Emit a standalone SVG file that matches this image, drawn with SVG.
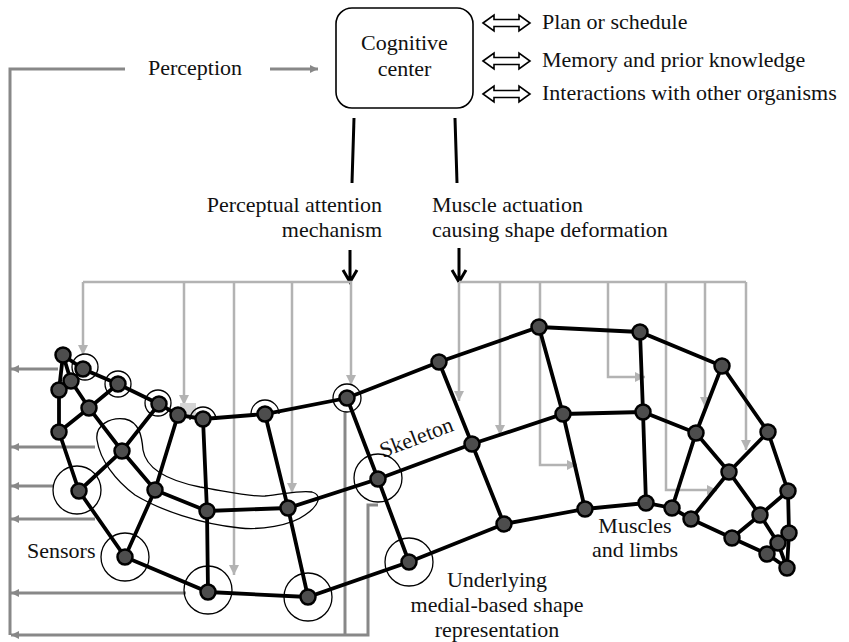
<svg xmlns="http://www.w3.org/2000/svg" width="849" height="642" viewBox="0 0 849 642">
<style>
text{font-family:"Liberation Serif","Times New Roman",serif;font-size:22px;fill:#111}
.att{stroke:#b3b3b3;stroke-width:2.5;fill:none}
.fb{stroke:#888;stroke-width:3;fill:none}
.blk{stroke:#000;stroke-width:3;fill:none}
.edge{stroke:#000;stroke-width:3.8;stroke-linecap:round}
.nd{fill:#4d4d4d;stroke:#000;stroke-width:2.5}
.sc{fill:none;stroke:#000;stroke-width:1.3}
.dbl{fill:#fff;stroke:#000;stroke-width:1.6;stroke-linejoin:miter}
</style>
<defs>
<marker id="ga" markerUnits="userSpaceOnUse" viewBox="0 0 10 10" refX="10" refY="5" markerWidth="11" markerHeight="10" orient="auto"><path d="M0,0 L10,5 L0,10 z" fill="#b3b3b3"/></marker>
<marker id="fa" markerUnits="userSpaceOnUse" viewBox="0 0 10 10" refX="10" refY="5" markerWidth="9" markerHeight="8" orient="auto"><path d="M0,0 L10,5 L0,10 z" fill="#888"/></marker>
<path id="dblarrow" d="M0,0 L11,-8 L11,-3.5 L36,-3.5 L36,-8 L47,0 L36,8 L36,3.5 L11,3.5 L11,8 Z"/>
</defs>

<g id="cognitive-center">
<rect x="336" y="8" width="137" height="100" rx="16" ry="16" fill="#fff" stroke="#000" stroke-width="1.6"/>
<text x="404.5" y="50" text-anchor="middle">Cognitive</text>
<text x="404.5" y="76" text-anchor="middle">center</text>
</g>

<g id="side-items">
<use href="#dblarrow" class="dbl" x="483" y="23"/>
<use href="#dblarrow" class="dbl" x="483" y="61"/>
<use href="#dblarrow" class="dbl" x="483" y="94"/>
<text x="542" y="29">Plan or schedule</text>
<text x="542" y="67">Memory and prior knowledge</text>
<text x="542" y="100">Interactions with other organisms</text>
</g>

<g id="labels">
<text x="148" y="75">Perception</text>
<text x="382" y="212" text-anchor="end">Perceptual attention</text>
<text x="382" y="237" text-anchor="end">mechanism</text>
<text x="432" y="212">Muscle actuation</text>
<text x="432" y="237">causing shape deformation</text>
<text x="27" y="558">Sensors</text>
<text x="383" y="458" transform="rotate(-21 383 458)">Skeleton</text>
<text x="635" y="533" text-anchor="middle">Muscles</text>
<text x="635" y="557" text-anchor="middle">and limbs</text>
<text x="497" y="587" text-anchor="middle">Underlying</text>
<text x="497" y="612" text-anchor="middle">medial-based shape</text>
<text x="497" y="637" text-anchor="middle">representation</text>
</g>

<g id="connectors">
<path class="fb" d="M125,69 H10 V635"/>
<path class="fb" d="M270,69 H318" marker-end="url(#fa)"/>
<path class="fb" d="M58,369 H11" marker-end="url(#fa)"/>
<path class="fb" d="M95,447 H11" marker-end="url(#fa)"/>
<path class="fb" d="M53,486 H11" marker-end="url(#fa)"/>
<path class="fb" d="M95,519 H11" marker-end="url(#fa)"/>
<path class="fb" d="M186,593 H11" marker-end="url(#fa)"/>
<path class="fb" d="M345,411 V635"/>
<path class="fb" d="M378,505 H368 V635 H11" marker-end="url(#fa)"/>
<path class="blk" d="M354,118 L352,183"/>
<path class="blk" d="M455,118 L457,183"/>
<path class="blk" d="M350,250 V281 M343,270 L350,282 L357,270"/>
<path class="blk" d="M459,248 V281 M452,270 L459,282 L466,270"/>
<path class="att" d="M352,282 H83"/>
<path class="att" d="M83,282 V355" marker-end="url(#ga)"/>
<path class="att" d="M184,282 V405" marker-end="url(#ga)"/>
<path class="att" d="M234,282 V575" marker-end="url(#ga)"/>
<path class="att" d="M292,282 V493" marker-end="url(#ga)"/>
<path class="att" d="M351,282 V385" marker-end="url(#ga)"/>
<rect x="180" y="403" width="16" height="15" fill="#d4d4d4"/>
<path class="att" d="M459,282 H746"/>
<path class="att" d="M459,282 V401" marker-end="url(#ga)"/>
<path class="att" d="M500,282 V435" marker-end="url(#ga)"/>
<path class="att" d="M540,282 V465 H577" marker-end="url(#ga)"/>
<path class="att" d="M608,282 V377 H645" marker-end="url(#ga)"/>
<path class="att" d="M666,282 V490 H717" marker-end="url(#ga)"/>
<path class="att" d="M705,282 V407" marker-end="url(#ga)"/>
<path class="att" d="M746,282 V450" marker-end="url(#ga)"/>
</g>

<g id="sensors">
<path class="sc" d="M97,440 C95,425 110,417 125,419 C140,422 142,438 143,450 C146,468 165,480 200,487 C230,492 250,497 265,496 C285,494 300,490 312,492 C322,495 320,505 305,515 C290,526 260,530 240,528 C200,524 160,510 135,495 C115,480 100,460 97,440 Z"/>
<circle class="sc" cx="85" cy="367" r="13"/>
<circle class="sc" cx="118" cy="384" r="13"/>
<circle class="sc" cx="158" cy="403" r="13"/>
<path class="sc" d="M190,420 A13,13 0 0 1 216,420"/>
<path class="sc" d="M251,414 A14,14 0 0 1 279,414"/>
<circle class="sc" cx="347" cy="398" r="14"/>
<circle class="sc" cx="77" cy="490" r="24"/>
<circle class="sc" cx="125" cy="557" r="24"/>
<circle class="sc" cx="208" cy="590" r="24"/>
<circle class="sc" cx="308" cy="597" r="24"/>
<circle class="sc" cx="378" cy="478" r="24"/>
<circle class="sc" cx="409" cy="562" r="24"/>
</g>

<g id="mesh-edges">
<path class="edge" fill="none" d="M63,355 L83,369 L118,384 L159,404 L178,415 L203,419 L265,414 L347,398 L439,362 L539,327 L640,332 L722,366 L768,432 L788,491 L789,533 L787,568"/>
<path class="edge" fill="none" d="M59,432 L79,491 L125,557 L208,592 L308,597 L409,562 L504,524 L585,509 L646,503 L672,508 L691,519 L732,538 L767,554 L787,568"/>
<path class="edge" fill="none" d="M63,355 L59,390 L59,432 M63,355 L71,381 L89,408 L122,451 L155,490 L207,511 L288,508 L378,479 L472,444 L563,414 L643,412 L696,433 L729,472 L760,515 L778,543 L787,568"/>
<path class="edge" fill="none" d="M83,369 L71,381 M118,384 L89,408 L59,432 M159,404 L122,451 L79,491 M178,415 L155,490 L125,557 M203,419 L207,511 L208,592 M265,414 L288,508 L308,597 M347,398 L378,479 L409,562 M439,362 L472,444 L504,524 M539,327 L563,414 L585,509 M640,332 L643,412 L646,503 M722,366 L696,433 L672,508 M768,432 L729,472 L691,519 M788,491 L760,515 L732,538"/>
</g>

<g id="mesh-nodes">
<circle class="nd" cx="63" cy="355" r="7.5"/>
<circle class="nd" cx="83" cy="369" r="7.5"/>
<circle class="nd" cx="71" cy="381" r="7.5"/>
<circle class="nd" cx="59" cy="390" r="7.5"/>
<circle class="nd" cx="89" cy="408" r="7.5"/>
<circle class="nd" cx="118" cy="384" r="7.5"/>
<circle class="nd" cx="159" cy="404" r="7.5"/>
<circle class="nd" cx="178" cy="415" r="7.5"/>
<circle class="nd" cx="203" cy="419" r="7.5"/>
<circle class="nd" cx="265" cy="414" r="7.5"/>
<circle class="nd" cx="59" cy="432" r="7.5"/>
<circle class="nd" cx="122" cy="451" r="7.5"/>
<circle class="nd" cx="79" cy="491" r="7.5"/>
<circle class="nd" cx="155" cy="490" r="7.5"/>
<circle class="nd" cx="207" cy="511" r="7.5"/>
<circle class="nd" cx="288" cy="508" r="7.5"/>
<circle class="nd" cx="125" cy="557" r="7.5"/>
<circle class="nd" cx="208" cy="592" r="7.5"/>
<circle class="nd" cx="308" cy="597" r="7.5"/>
<circle class="nd" cx="347" cy="398" r="7.5"/>
<circle class="nd" cx="439" cy="362" r="7.5"/>
<circle class="nd" cx="539" cy="327" r="7.5"/>
<circle class="nd" cx="378" cy="479" r="7.5"/>
<circle class="nd" cx="409" cy="562" r="7.5"/>
<circle class="nd" cx="472" cy="444" r="7.5"/>
<circle class="nd" cx="504" cy="524" r="7.5"/>
<circle class="nd" cx="563" cy="414" r="7.5"/>
<circle class="nd" cx="585" cy="509" r="7.5"/>
<circle class="nd" cx="640" cy="332" r="7.5"/>
<circle class="nd" cx="643" cy="412" r="7.5"/>
<circle class="nd" cx="646" cy="503" r="7.5"/>
<circle class="nd" cx="672" cy="508" r="7.5"/>
<circle class="nd" cx="691" cy="519" r="7.5"/>
<circle class="nd" cx="722" cy="366" r="7.5"/>
<circle class="nd" cx="696" cy="433" r="7.5"/>
<circle class="nd" cx="729" cy="472" r="7.5"/>
<circle class="nd" cx="768" cy="432" r="7.5"/>
<circle class="nd" cx="788" cy="491" r="7.5"/>
<circle class="nd" cx="760" cy="515" r="7.5"/>
<circle class="nd" cx="732" cy="538" r="7.5"/>
<circle class="nd" cx="789" cy="533" r="7.5"/>
<circle class="nd" cx="778" cy="543" r="7.5"/>
<circle class="nd" cx="767" cy="554" r="7.5"/>
<circle class="nd" cx="787" cy="568" r="7.5"/>
</g>
</svg>
